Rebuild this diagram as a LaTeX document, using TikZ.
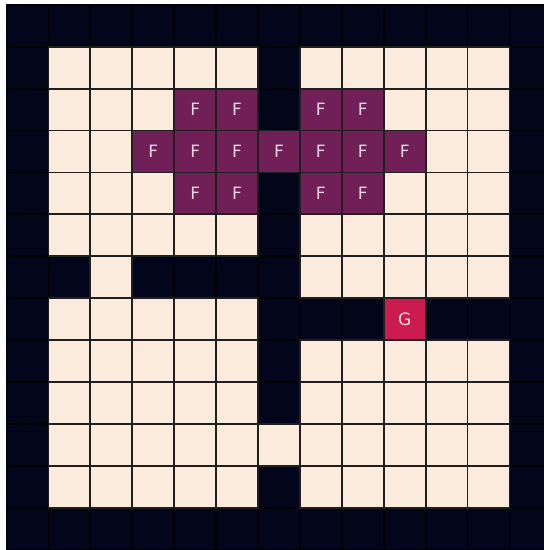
\documentclass[tikz,border=0pt]{standalone}
\usepackage{fontspec}
\setsansfont{DejaVu Sans}
\definecolor{wallc}{HTML}{03051A}
\definecolor{floorc}{HTML}{FAEBDD}
\definecolor{foodc}{HTML}{701F57}
\definecolor{goalc}{HTML}{CB1B4F}
\tikzset{
  cell/.style  ={draw=black!88,line width=1.8pt,minimum size=41.9pt,inner sep=0pt},
  wall/.style  ={cell,fill=wallc,draw=black},
  free/.style  ={cell,fill=floorc},
  food/.style  ={cell,fill=foodc,text=white!82!foodc,
                 font=\sffamily\fontsize{17}{17}\selectfont},
  goal/.style  ={cell,fill=goalc,text=white!85!goalc,
                 font=\sffamily\fontsize{17}{17}\selectfont},
}

\begin{document}
\begin{tikzpicture}[x=41.9pt,y=-41.9pt]
  \useasboundingbox (-6.6pt,4.8pt) rectangle (537.4pt,-545.2pt);
  \fill[white] (-6.6pt,4.8pt) rectangle (537.4pt,-545.2pt);
  \clip (-6.6pt,4.8pt) rectangle (537.4pt,-545.2pt);

  % walls everywhere, then the open cells on top
  \foreach \r in {0,...,12}
    \foreach \c in {0,...,12}
      \node[wall] (w-\r-\c) at (\c+.5,\r+.5) {};

  \foreach \r/\cols in {1/{1,2,3,4,5,7,8,9,10,11},
                        2/{1,2,3,9,10,11},
                        3/{1,2,10,11},
                        4/{1,2,3,9,10,11},
                        5/{1,2,3,4,5,7,8,9,10,11},
                        6/{2,7,8,9,10,11},
                        7/{1,2,3,4,5},
                        8/{1,2,3,4,5,7,8,9,10,11},
                        9/{1,2,3,4,5,7,8,9,10,11},
                        10/{1,2,3,4,5,6,7,8,9,10,11},
                        11/{1,2,3,4,5,7,8,9,10,11}}
    \foreach \c in \cols
      \node[free] (f-\r-\c) at (\c+.5,\r+.5) {};

  \foreach \r/\c in {2/4,2/5,2/7,2/8,
                     3/3,3/4,3/5,3/6,3/7,3/8,3/9,
                     4/4,4/5,4/7,4/8}
    \node[food] (food-\r-\c) at (\c+.5,\r+.5) {F};

  \node[goal] (goal) at (9.5,7.5) {G};
\end{tikzpicture}
\end{document}
